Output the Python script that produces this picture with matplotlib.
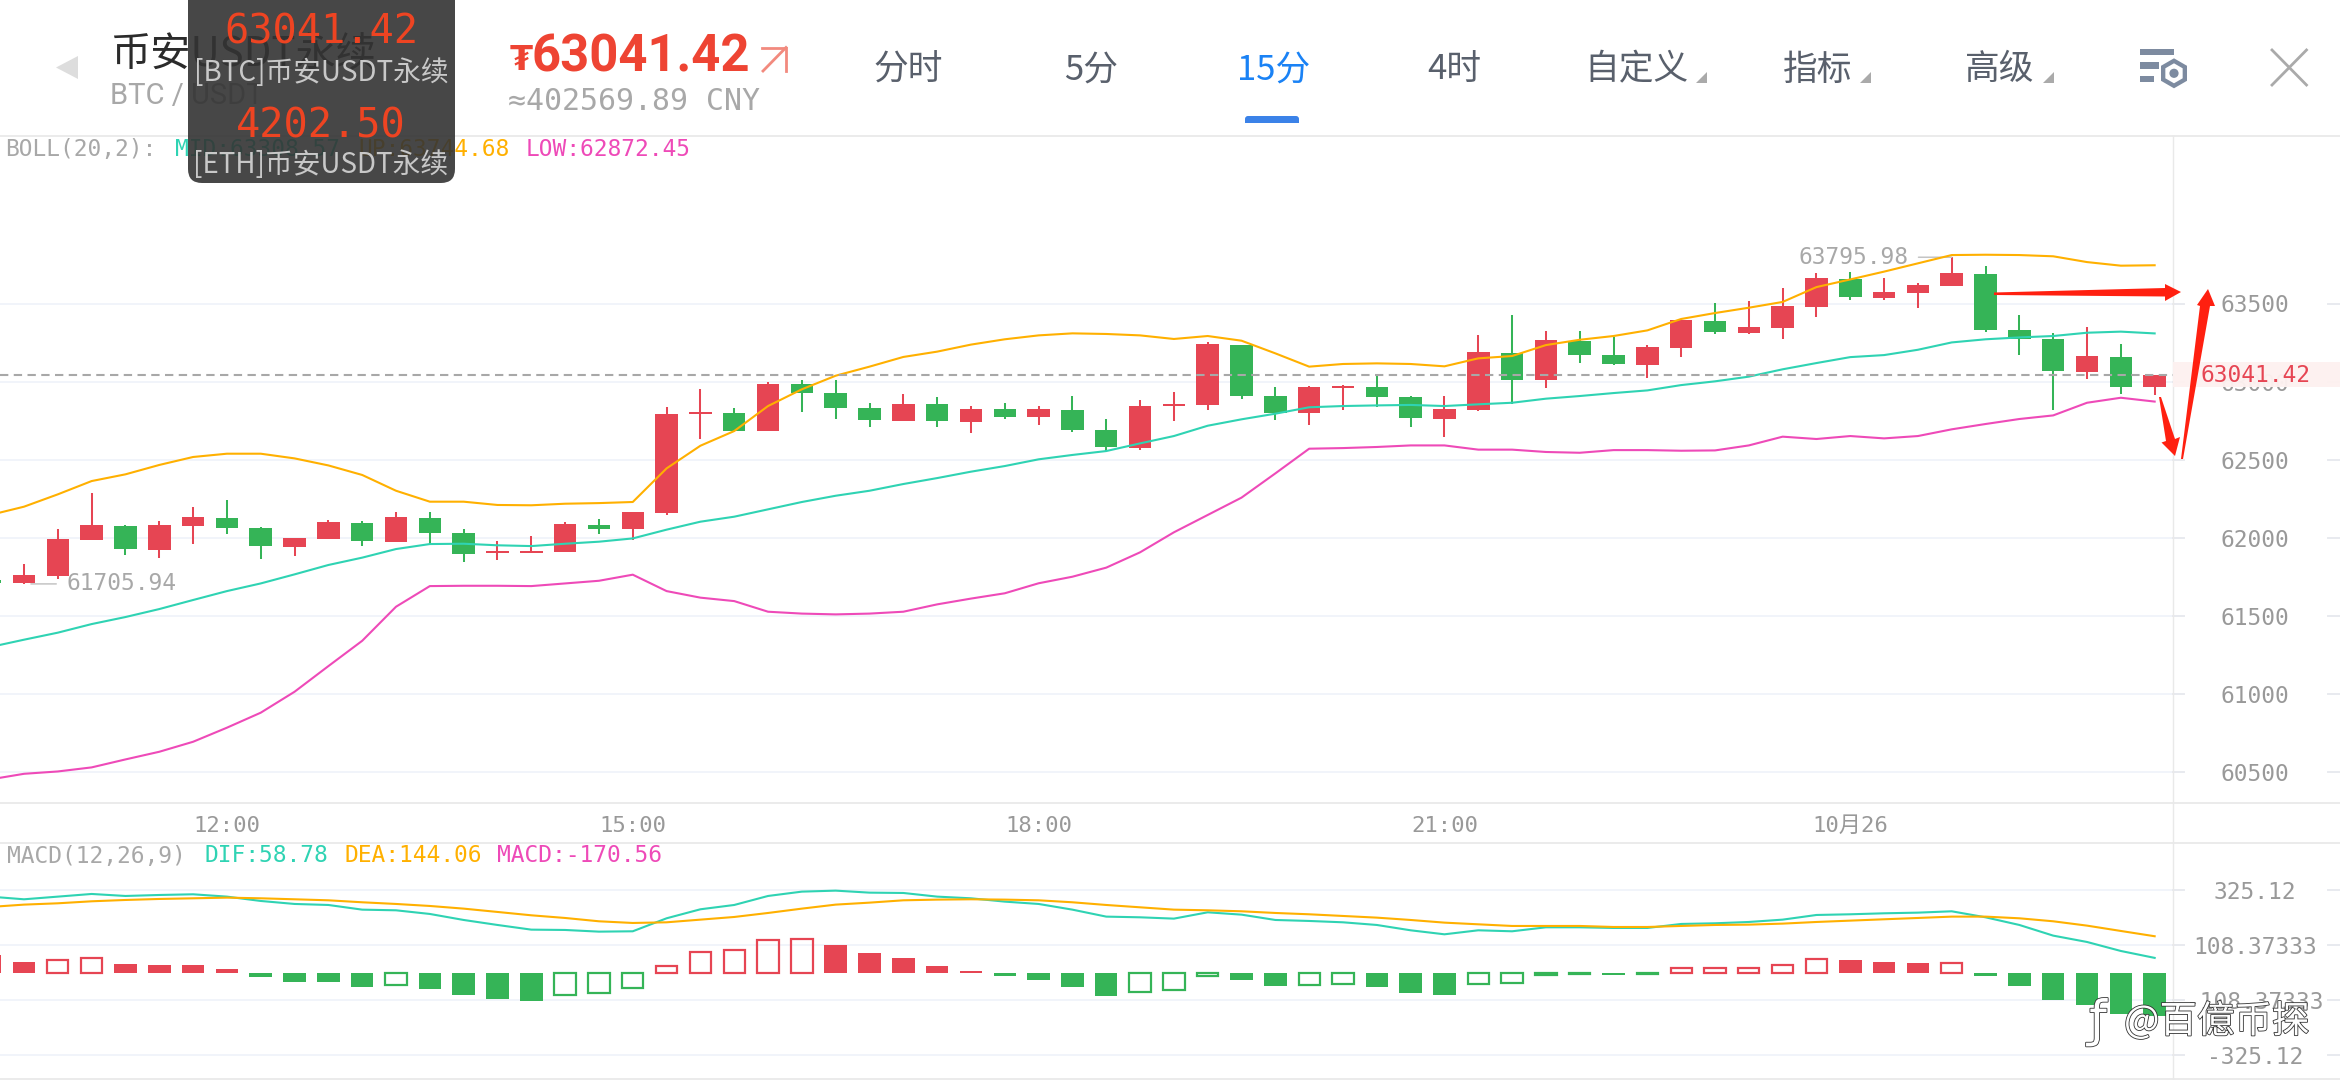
import numpy as np
import matplotlib
matplotlib.use('Agg')
from matplotlib import pyplot as plt
from matplotlib.patches import FancyBboxPatch, Polygon, Rectangle, RegularPolygon, Circle
import matplotlib.patheffects as pe

plt.rcParams['font.family'] = ['Noto Sans CJK SC', 'DejaVu Sans']
MONO = ['DejaVu Sans Mono', 'Noto Sans CJK SC']

# K线数据, 第一根只露出一点
opens = [61729, 61712, 61758, 61987, 62076, 61923, 62076, 62128, 62064, 61942, 61993, 62096, 61974, 62128, 62032,
         61904, 61904, 61910, 62083, 62057, 62160, 62793, 62799, 62684, 62985, 62927, 62831, 62748, 62857, 62742,
         62825, 62774, 62818, 62690, 62575, 62844, 62851, 63234, 62908, 62799, 62959, 62966, 62902, 62761, 62818,
         63183, 63010, 63260, 63170, 63106, 63215, 63388, 63311, 63343, 63477, 63657, 63535, 63567, 63612, 63689,
         63330, 63273, 63062, 63157, 62966]
closes = [61714, 61763, 61993, 62083, 61929, 62083, 62134, 62064, 61948, 61999, 62102, 61980, 62134, 62032, 61897,
          61916, 61916, 62089, 62057, 62166, 62793, 62806, 62684, 62985, 62927, 62831, 62754, 62857, 62748, 62825,
          62774, 62825, 62690, 62582, 62844, 62857, 63241, 62908, 62799, 62966, 62972, 62902, 62767, 62825, 63190,
          63010, 63266, 63170, 63113, 63221, 63394, 63317, 63349, 63484, 63663, 63541, 63573, 63618, 63695, 63330,
          63273, 63068, 63164, 62966, 63041.42]
highs = [61729, 61833, 62057, 62288, 62083, 62108, 62198, 62243, 62070, 61999, 62115, 62108, 62166, 62166, 62057,
         61980, 62012, 62102, 62121, 62166, 62838, 62953, 62831, 62998, 63010, 63010, 62863, 62921, 62902, 62844,
         62863, 62844, 62908, 62761, 62882, 62934, 63254, 63234, 62966, 62972, 62978, 63049, 62908, 62908, 63298,
         63426, 63324, 63324, 63285, 63234, 63394, 63503, 63516, 63599, 63695, 63701, 63663, 63631, 63795.98, 63740,
         63426, 63311, 63349, 63241, 63041.42]
lows = [61714, 61705.94, 61737, 61987, 61891, 61872, 61961, 62025, 61865, 61884, 61993, 61948, 61974, 61961, 61846,
        61859, 61904, 61910, 62025, 61987, 62147, 62633, 62684, 62684, 62806, 62761, 62710, 62748, 62710, 62671,
        62761, 62722, 62678, 62556, 62563, 62748, 62818, 62889, 62754, 62722, 62818, 62838, 62710, 62646, 62812,
        62857, 62959, 63119, 63106, 63023, 63157, 63305, 63305, 63273, 63413, 63522, 63522, 63471, 63612, 63317,
        63170, 62818, 63017, 62921, 62914]

# BOLL
boll_up = [62147, 62200, 62279, 62364, 62407, 62467, 62518, 62539, 62539, 62509, 62464, 62403, 62302, 62232, 62232,
           62211, 62209, 62219, 62223, 62230, 62445, 62590, 62684, 62844, 62951, 63038, 63096, 63158, 63192, 63237,
           63271, 63296, 63309, 63305, 63296, 63273, 63292, 63262, 63181, 63096, 63113, 63117, 63113, 63098, 63149,
           63164, 63234, 63268, 63292, 63328, 63401, 63439, 63473, 63510, 63605, 63654, 63704, 63757, 63810, 63812,
           63810, 63802, 63765, 63742, 63744.68]
boll_mid = [61302, 61349, 61394, 61449, 61494, 61545, 61603, 61660, 61709, 61767, 61827, 61874, 61929, 61961, 61963,
            61953, 61948, 61963, 61976, 61997, 62053, 62104, 62136, 62183, 62230, 62270, 62302, 62345, 62383, 62424,
            62460, 62503, 62531, 62556, 62605, 62652, 62718, 62759, 62795, 62836, 62844, 62848, 62851, 62844, 62855,
            62865, 62891, 62908, 62927, 62944, 62978, 63002, 63032, 63079, 63119, 63157, 63170, 63204, 63251, 63271,
            63283, 63292, 63313, 63320, 63308.57]
boll_low = [60455, 60491, 60506, 60532, 60583, 60632, 60696, 60786, 60882, 61016, 61180, 61342, 61560, 61692, 61694,
            61694, 61692, 61709, 61726, 61765, 61660, 61618, 61596, 61528, 61516, 61511, 61516, 61528, 61575, 61612,
            61646, 61710, 61752, 61810, 61908, 62036, 62147, 62258, 62413, 62571, 62575, 62582, 62592, 62592, 62565,
            62565, 62550, 62545, 62562, 62562, 62558, 62560, 62592, 62648, 62633, 62652, 62637, 62652, 62695, 62729,
            62761, 62784, 62865, 62897, 62872.45]

# MACD
dif = [300.2, 289.7, 300.2, 310.7, 302.8, 306.7, 309.4, 300.2, 283.1, 271.3, 267.3, 248.9, 246.3, 231.9, 208.2,
       188.5, 170.1, 168.8, 162.2, 163.6, 214.8, 250.3, 267.3, 302.8, 319.9, 323.8, 315.9, 314.6, 300.2, 293.6,
       280.5, 271.3, 248.9, 221.4, 218.7, 213.5, 238.4, 229.2, 208.2, 204.3, 199.0, 188.5, 167.5, 151.7, 167.5,
       163.6, 179.3, 179.3, 176.7, 176.7, 192.5, 195.1, 200.3, 209.5, 227.9, 230.6, 234.5, 237.1, 242.4, 218.7,
       188.5, 146.5, 121.5, 86.0, 58.78]
dea = [259.5, 268.7, 273.9, 281.8, 287.0, 291.0, 293.6, 296.2, 293.6, 289.7, 285.7, 277.9, 271.3, 263.4, 252.9,
       239.8, 226.6, 216.1, 203.0, 196.4, 199.0, 209.5, 220.0, 235.8, 252.9, 268.7, 276.5, 285.7, 288.4, 289.7,
       288.4, 285.7, 277.9, 267.3, 258.1, 248.9, 246.3, 242.4, 235.8, 230.6, 224.0, 217.4, 208.2, 197.7, 191.1,
       184.6, 184.6, 184.6, 180.6, 180.6, 184.6, 188.5, 189.8, 193.8, 200.3, 205.6, 210.9, 216.1, 221.4, 221.4,
       214.8, 203.0, 185.9, 164.9, 144.06]
macd = [70, 42.7, 52, 60, 35, 31, 31, 15, -16.4, -36, -36, -56, -48, -64, -87,
        -103, -111, -87, -79, -60, 27, 82, 90, 129, 133, 110, 78, 58, 27, 7,
        -12.5, -28, -56, -91, -75.5, -68, -12.5, -28, -52, -48, -44, -56, -79, -87, -44,
        -40, -7, -3.3, -7, -3.3, 19, 19.5, 20, 31, 54.5, 50.6, 42.7, 38.8, 40, -12.5,
        -52, -107, -127, -162, -170.56]

price_ticks = [60500, 61000, 61500, 62000, 62500, 63000, 63500]
macd_ticks = [-325.12, -108.37333, 108.37333, 325.12]
time_pos = [6, 18, 30, 42, 54]
time_labels = ['12:00', '15:00', '18:00', '21:00', '10月26']
last_price = 63041.42

RED = '#e64553'
GREEN = '#35b457'
C_MID = '#2fd3b3'
C_UP = '#ffb000'
C_LOW = '#ee4ab8'
GRID = '#f1f4fa'
LINE = '#e9e9e9'
GREY = '#a8a8a8'
TAB = '#59606c'

W, H = 2340, 1080
AXIS_X = 2173
STEP = 33.82  # 每根K线的像素宽度


def make_axes(top, bottom):
    return fig.add_axes([0, 1 - bottom / H, AXIS_X / W, (bottom - top) / H])


fig = plt.figure(figsize=(W / 100, H / 100), dpi=100, facecolor='white')
x = np.arange(-1, 64)
xlim = (-24 / STEP, (AXIS_X - 24) / STEP)

# 主图
ax = make_axes(136, 803)
for i in range(len(x)):
    col = RED if closes[i] >= opens[i] else GREEN
    ax.vlines(x[i], lows[i], highs[i], color=col, lw=1.45, zorder=3)
    ax.bar(x[i], abs(closes[i] - opens[i]), bottom=min(opens[i], closes[i]), width=0.665, color=col, lw=0, zorder=3)
ax.plot(x, boll_up, color=C_UP, lw=1.5, zorder=4)
ax.plot(x, boll_mid, color=C_MID, lw=1.5, zorder=4)
ax.plot(x, boll_low, color=C_LOW, lw=1.5, zorder=4)
ax.axhline(last_price, color=GREY, lw=1.5, dashes=(4, 2.6), zorder=5)
ax.set_xlim(*xlim)
ax.set_ylim(63500 - 499.5 * 6.398, 63500 + 167.5 * 6.398)
ax.set_yticks(price_ticks)
ax.yaxis.tick_right()
ax.tick_params(axis='y', length=0, pad=59, labelcolor='#999999')
for t in ax.get_yticklabels():
    t.set_ha('center')
    t.set_family(MONO)
    t.set_fontsize(16.5)
ax.set_xticks(time_pos)
ax.set_xticklabels(time_labels, family=MONO, fontsize=16, color='#999999')
ax.tick_params(axis='x', length=0, pad=9.6)
ax.grid(axis='y', color=GRID, lw=1.4)
ax.set_axisbelow(True)
for s in ax.spines.values():
    s.set_visible(False)

# 最高最低标注
i_hi = int(np.argmax(highs))
i_lo = int(np.argmin(lows))
ax.annotate('%.2f' % highs[i_hi], xy=(x[i_hi], highs[i_hi]), xytext=(-43, 0), textcoords='offset pixels',
            ha='right', va='center', color=GREY, family=MONO, fontsize=16.5,
            arrowprops=dict(arrowstyle='-', color='#c4c4c4', lw=1.1, shrinkA=5, shrinkB=0))
ax.annotate('%.2f' % lows[i_lo], xy=(x[i_lo], lows[i_lo]), xytext=(42, 0), textcoords='offset pixels',
            ha='left', va='center', color=GREY, family=MONO, fontsize=16.5,
            arrowprops=dict(arrowstyle='-', color='#c4c4c4', lw=1.1, shrinkA=5, shrinkB=5))

# 副图
ax2 = make_axes(843.3, 1079.3)
for i in range(len(x)):
    col = RED if macd[i] >= 0 else GREEN
    if i > 0 and macd[i] > macd[i - 1]:
        ax2.bar(x[i], macd[i], width=0.63, fill=False, edgecolor=col, lw=1.6, zorder=3)
    else:
        ax2.bar(x[i], macd[i], width=0.665, color=col, lw=0, zorder=3)
ax2.plot(x, dif, color=C_MID, lw=1.5, zorder=4)
ax2.plot(x, dea, color=C_UP, lw=1.5, zorder=4)
ax2.set_xlim(*xlim)
ax2.set_ylim((972.8 - 1079.3) * 3.941, (972.8 - 843.3) * 3.941)
ax2.set_xticks([])
ax2.set_yticks(macd_ticks)
ax2.set_yticklabels(['-325.12', '-108.37333', '108.37333', '325.12'])
ax2.yaxis.tick_right()
ax2.tick_params(axis='y', length=0, pad=59, labelcolor='#999999')
for t in ax2.get_yticklabels():
    t.set_ha('center')
    t.set_family(MONO)
    t.set_fontsize(16.5)
ax2.grid(axis='y', color=GRID, lw=1.4)
ax2.set_axisbelow(True)
for s in ax2.spines.values():
    s.set_visible(False)

# 右侧刻度的短横线
for a, ticks in ((ax, price_ticks), (ax2, macd_ticks)):
    tr = a.get_yaxis_transform()
    for v in ticks:
        a.plot([1, 1 + 11 / AXIS_X], [v, v], transform=tr, color='#e8eaef', lw=1.4, clip_on=False)
        a.plot([1 + 155 / AXIS_X, 1 + 167 / AXIS_X], [v, v], transform=tr, color='#e8eaef', lw=1.4, clip_on=False)

# 覆盖层: 顶部栏, 提示框, 手绘箭头, 水印
ov = fig.add_axes([0, 0, 1, 1], zorder=10)
ov.set_xlim(0, W)
ov.set_ylim(H, 0)
ov.axis('off')
ov.patch.set_alpha(0)

for y in (136, 803, 843.3, 1079.3):
    ov.plot([0, W], [y, y], color=LINE, lw=1.3, zorder=1)
ov.plot([AXIS_X, AXIS_X], [136, H], color=LINE, lw=1.0, zorder=1)

ov.add_patch(Polygon([(56, 67.5), (78, 56), (78, 79)], color='#dddddd', lw=0))
ov.text(110, 54, '币安USDT永续', fontsize=29, color='#2b2b2b', va='center', zorder=2)
ov.text(110, 96, 'BTC / USDT', fontsize=21, family='Roboto', color=GREY, va='center', zorder=2)

ov.text(510, 60, '₮', fontsize=24, fontweight='bold', family=['DejaVu Sans'], color='#ee4433', va='center')
ov.text(531, 57, '63041.42', fontsize=36.5, fontweight='bold', family='Roboto', color='#ee4433', va='center')
ov.plot([762, 786, 786], [47.5, 47.5, 71], color='#f28a7e', lw=2, solid_joinstyle='miter')
ov.plot([763, 786], [71, 47.5], color='#f28a7e', lw=2)
ov.text(508, 102, '≈402569.89 CNY', fontsize=21.5, family=MONO, color=GREY, va='center')

tabs = ['分时', '5分', '15分', '4时', '自定义', '指标', '高级']
tab_x = [908, 1091, 1274, 1454, 1636, 1818, 2000]
for name, tx in zip(tabs, tab_x):
    ov.text(tx, 70, name, fontsize=25, color='#1a82f5' if name == '15分' else TAB, ha='center', va='center')
for tx in (1696, 1860, 2043):
    ov.add_patch(Polygon([(tx, 83), (tx + 11, 83), (tx + 11, 72)], color='#aaaaaa', lw=0))
ov.add_patch(FancyBboxPatch((1248, 119), 48, 4, boxstyle='round,pad=3', color='#3b82e8', lw=0))
ov.add_patch(Rectangle((1245, 123), 54, 4, color='white', lw=0, zorder=3))

# 设置图标和关闭
ICON = '#7d8ba0'
ov.add_patch(Rectangle((2140, 48.7), 34, 6.4, color=ICON, lw=0))
ov.add_patch(Rectangle((2140, 62.3), 19, 6.4, color=ICON, lw=0))
ov.add_patch(Rectangle((2140, 75.7), 14, 6.4, color=ICON, lw=0))
ov.add_patch(RegularPolygon((2174, 73.3), 6, radius=15, color=ICON, lw=0))
ov.add_patch(RegularPolygon((2174, 73.3), 6, radius=10, color='white', lw=0))
ov.add_patch(Circle((2174, 73.3), 4.6, color=ICON, lw=0))
ov.plot([2272, 2306.5], [50, 85], color='#aaaaaa', lw=2)
ov.plot([2306.5, 2272], [50, 85], color='#aaaaaa', lw=2)

# 指标文字
row = [(5, 'BOLL(20,2):', GREY), (175, 'MID:63308.57', C_MID), (358, 'UP:63744.68', C_UP), (526, 'LOW:62872.45', C_LOW)]
for tx, s, c in row:
    ov.text(tx, 149.5, s, fontsize=16.5, family=MONO, color=c, va='center', zorder=2)
row2 = [(7, 'MACD(12,26,9)', GREY), (204, 'DIF:58.78', C_MID), (344, 'DEA:144.06', C_UP), (497, 'MACD:-170.56', C_LOW)]
for tx, s, c in row2:
    ov.text(tx, 856, s, fontsize=16.5, family=MONO, color=c, va='center', zorder=2)

# 提示框, 半透明能看到后面的字
ov.add_patch(FancyBboxPatch((202, -20), 239, 189, boxstyle='round,pad=14', facecolor='#333333', alpha=0.9, lw=0, zorder=5))
ov.text(321, 33, '63041.42', fontsize=29, family=MONO, color='#ee4422', ha='center', va='center', zorder=6)
ov.text(321, 73, '[BTC]币安USDT永续', fontsize=20, color='#c8c8c8', ha='center', va='center', zorder=6)
ov.text(321, 126, '4202.50', fontsize=29, family=MONO, color='#ee4422', ha='center', va='center', zorder=6)
ov.text(321, 165, '[ETH]币安USDT永续', fontsize=20, color='#c8c8c8', ha='center', va='center', zorder=6)

# 当前价标签
ov.add_patch(Rectangle((AXIS_X, 362), W - AXIS_X, 25, color='#fdf1f0', alpha=0.97, lw=0, zorder=3))
ov.text(2256, 375, '63041.42', fontsize=16.5, family=MONO, color=RED, ha='center', va='center', zorder=4)

# 手绘箭头
ARROW = '#ff2010'
ov.add_patch(Polygon([(1994, 292.5), (2165, 288), (2165, 284), (2181, 292), (2165, 301), (2165, 296.5), (1994, 295)],
                     color=ARROW, lw=0, zorder=7))
ov.add_patch(Polygon([(2159, 397), (2166, 441), (2161.5, 442.5), (2175, 456), (2180, 437), (2175, 439), (2161, 397)],
                     color=ARROW, lw=0, zorder=7))
ov.add_patch(Polygon([(2181, 459), (2200, 306), (2197, 305), (2208, 289), (2215, 306), (2210, 306), (2183, 459)],
                     color=ARROW, lw=0, zorder=7))

# 水印
outline = [pe.withStroke(linewidth=1.2, foreground='#333333')]
ov.text(2124, 1022, '@百億币探', fontsize=27, color='white', va='center', zorder=8, path_effects=outline)
ov.text(2098, 1022, 'ƒ', fontsize=36, family=['DejaVu Sans'], color='white', ha='center', va='center', zorder=8,
        path_effects=outline)

fig.savefig('out.png', dpi=100)
